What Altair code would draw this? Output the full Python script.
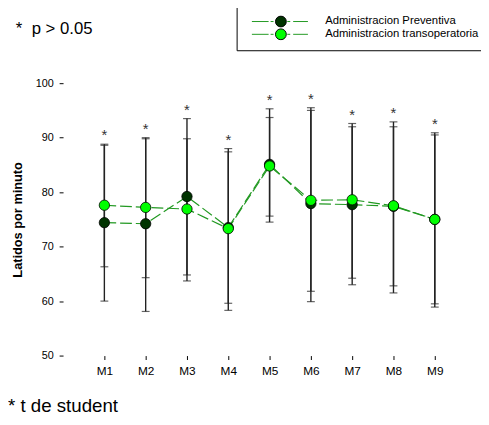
import altair as alt
import pandas as pd

categories = ["M1", "M2", "M3", "M4", "M5", "M6", "M7", "M8", "M9"]
series_names = ["Administracion Preventiva", "Administracion transoperatoria"]

prev_mean = [74.4, 74.2, 79.2, 73.5, 85.1, 77.9, 77.7, 77.4, 75.0]
prev_low = [60.0, 58.1, 64.8, 59.6, 74.5, 59.9, 63.0, 61.5, 58.9]
prev_high = [88.6, 90.0, 93.5, 87.4, 95.3, 95.5, 92.6, 92.9, 90.9]

trans_mean = [77.6, 77.2, 76.9, 73.3, 84.8, 78.5, 78.6, 77.5, 75.0]
trans_low = [66.3, 64.3, 63.7, 58.3, 75.6, 61.8, 64.2, 62.8, 59.5]
trans_high = [88.8, 89.8, 89.8, 88.0, 93.7, 95.0, 92.0, 92.0, 90.5]

star_labels = ["*", "*", "*", "*", "*", "*", "*", "*", "*"]
y_ticks = [50, 60, 70, 80, 90, 100]
y_title = "Latidos por minuto"
note_top = "*\u00a0\u00a0p > 0.05"
note_bottom = "*\u00a0t de student"

FONT = "Liberation Sans"
LINE_GREEN = "#229922"
DARK = "#003300"
LIGHT = "#00ff00"

# second legend (line part) uses distinct keys so it is not merged with the fill legend
line_keys = [s + " " for s in series_names]

rows = []
for name, key2, m, lo, hi in [
    (series_names[0], line_keys[0], prev_mean, prev_low, prev_high),
    (series_names[1], line_keys[1], trans_mean, trans_low, trans_high),
]:
    for c, a, b, d in zip(categories, m, lo, hi):
        rows.append({"cat": c, "series": name, "serie2": key2, "mean": a, "low": b, "high": d})
df = pd.DataFrame(rows)
df["ord"] = range(len(df))

stars = pd.DataFrame({
    "cat": categories,
    "top": [max(a, b) for a, b in zip(prev_high, trans_high)],
    "star": star_labels,
})

xenc = alt.X(
    "cat:N",
    scale=alt.Scale(type="point", padding=1, domain=categories),
    axis=alt.Axis(title=None, labelAngle=0, domain=False, tickSize=4, tickColor="#000",
                  tickWidth=1, labelPadding=6, labelFontSize=12, labelColor="#000",
                  labelFont=FONT),
)
yscale = alt.Scale(domain=[50, 100], nice=False, zero=False)
yax = alt.Axis(values=y_ticks, title=y_title, grid=False, domain=False, tickSize=4,
               tickColor="#000", tickWidth=1, labelPadding=6, labelFontSize=11,
               labelColor="#000", labelFont=FONT, titleFont=FONT, titleFontSize=13,
               titleFontWeight="bold", titleColor="#000", titleX=-42, titleY=138.5,
               titleAngle=270, titleBaseline="alphabetic", titleAlign="center")

LEG_X = 176.5
LEG_Y = -78.5
LEG_COMMON = dict(title=None, orient="none", legendX=LEG_X, legendY=LEG_Y, padding=9.5,
                  symbolSize=121, symbolStrokeWidth=1, symbolOffset=29.5, labelOffset=39,
                  labelFontSize=11.5, labelFont=FONT, rowPadding=0, clipHeight=12.6)

base = alt.Chart(df)

rules = base.mark_rule(color="#222", strokeWidth=1.4).encode(
    x=xenc, y=alt.Y("low:Q", scale=yscale, axis=yax), y2="high:Q")
cap_lo = base.mark_tick(color="#222", size=8, thickness=1.2).encode(
    x=xenc, y=alt.Y("low:Q", scale=yscale, axis=yax))
cap_hi = base.mark_tick(color="#222", size=8, thickness=1.2).encode(
    x=xenc, y=alt.Y("high:Q", scale=yscale, axis=yax))

line_path = "M-5.36,0H-2.27M-1.9,0H-1.36M1.18,0H1.73M2.27,0H5.0"

lines = base.mark_line(strokeDash=[12, 4], strokeWidth=1.2).encode(
    x=xenc,
    y=alt.Y("mean:Q", scale=yscale, axis=yax),
    stroke=alt.Stroke("serie2:N", scale=alt.Scale(domain=line_keys, range=[LINE_GREEN, LINE_GREEN]),
                      legend=alt.Legend(symbolType=line_path, symbolStrokeColor=LINE_GREEN,
                                        symbolDash=[100, 0], labelExpr="'\u00a0'",
                                        **LEG_COMMON)),
)

points = base.mark_circle(size=110, stroke="black", strokeWidth=0.8, opacity=1).encode(
    x=xenc,
    y=alt.Y("mean:Q", scale=yscale, axis=yax),
    fill=alt.Fill("series:N", scale=alt.Scale(domain=series_names, range=[DARK, LIGHT]),
                  legend=alt.Legend(strokeColor="#000", symbolType="circle",
                                    symbolStrokeColor="#000", labelColor="#000", **LEG_COMMON)),
    order="ord:Q",
)

star_layer = alt.Chart(stars).mark_text(fontSize=15, font=FONT, color="#333", dy=-4,
                                        baseline="alphabetic").encode(
    x=xenc, y=alt.Y("top:Q", scale=yscale, axis=yax), text="star:N")

top_note = alt.Chart(pd.DataFrame({"t": [note_top]})).mark_text(
    fontSize=17, font=FONT, color="#000", align="left", baseline="alphabetic").encode(
    x=alt.value(-48), y=alt.value(-50.5), text="t:N")
bottom_note = alt.Chart(pd.DataFrame({"t": [note_bottom]})).mark_text(
    fontSize=19, font=FONT, color="#000", align="left", baseline="alphabetic").encode(
    x=alt.value(-56), y=alt.value(334), text="t:N")

chart = alt.layer(rules, cap_lo, cap_hi, lines, points, star_layer, top_note, bottom_note).properties(
    width=420, height=277,
    padding={"left": 56, "top": 73, "right": 5, "bottom": 59},
    autosize=alt.AutoSizeParams(type="none"),
    background="white",
).configure_view(strokeWidth=0).configure_axis(domain=False, tickColor="#000", grid=False)

chart.save("out.html", embed_options={"renderer": "svg", "actions": False})
